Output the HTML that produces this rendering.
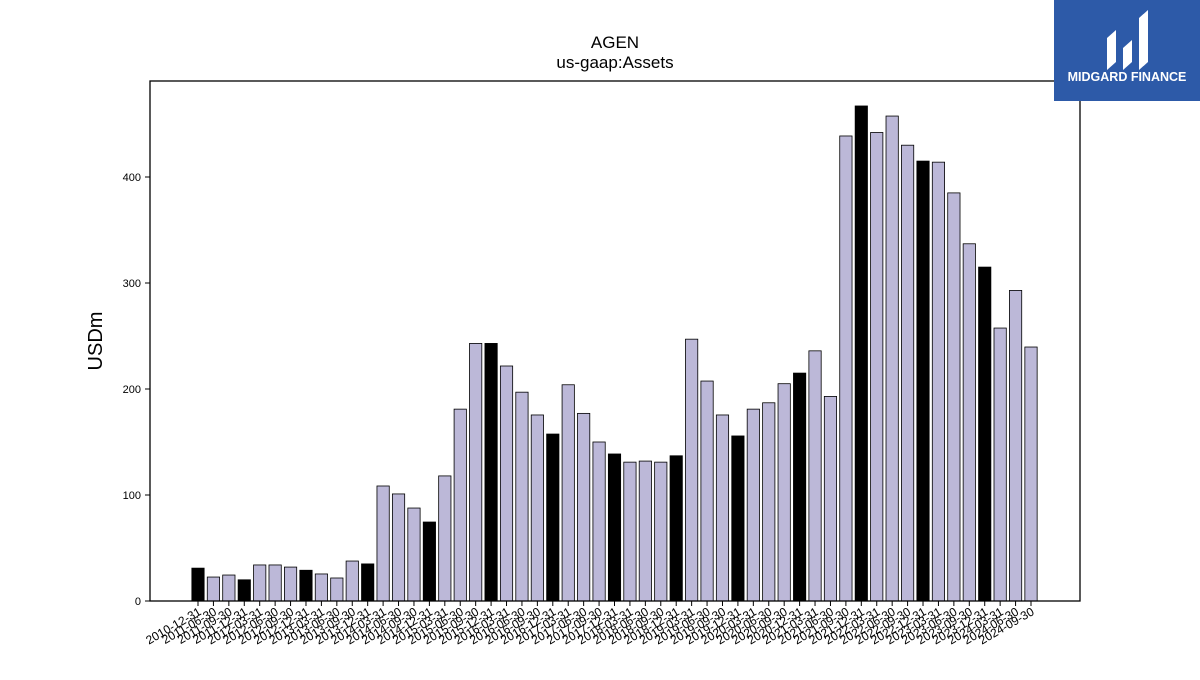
<!DOCTYPE html>
<html><head><meta charset="utf-8"><style>
body{margin:0;background:#fff;width:1200px;height:675px;overflow:hidden;font-family:"Liberation Sans",sans-serif}
</style></head><body>
<svg width="1200" height="675" xmlns="http://www.w3.org/2000/svg">
<text x="615" y="48" text-anchor="middle" font-size="17">AGEN</text>
<text x="615" y="68" text-anchor="middle" font-size="17">us-gaap:Assets</text>
<text transform="translate(102,341) rotate(-90)" text-anchor="middle" font-size="20">USDm</text>
<g id="bars"></g><g id="yt"></g><g id="xt"></g>
<rect x="150" y="81" width="930" height="520" fill="none" stroke="#000" stroke-width="1.3"/>
<g>
<rect x="1054" y="0" width="146" height="101" fill="#2d5aa8"/>
<path d="M1107 70 L1107 38 L1116 30 L1116 62 Z M1123 70 L1123 48 L1132 40 L1132 62 Z M1139 70 L1139 18 L1148 10 L1148 62 Z" fill="#fff"/>
<text x="1127" y="81" text-anchor="middle" font-size="12.5" font-weight="bold" fill="#fff">MIDGARD FINANCE</text>
</g>
</svg>
<script>
const labels=["2010-12-31","2011-06-30","2011-09-30","2011-12-31","2012-03-31","2012-06-30","2012-09-30","2012-12-31","2013-03-31","2013-06-30","2013-09-30","2013-12-31","2014-03-31","2014-06-30","2014-09-30","2014-12-31","2015-03-31","2015-06-30","2015-09-30","2015-12-31","2016-03-31","2016-06-30","2016-09-30","2016-12-31","2017-03-31","2017-06-30","2017-09-30","2017-12-31","2018-03-31","2018-06-30","2018-09-30","2018-12-31","2019-03-31","2019-06-30","2019-09-30","2019-12-31","2020-03-31","2020-06-30","2020-09-30","2020-12-31","2021-03-31","2021-06-30","2021-09-30","2021-12-31","2022-03-31","2022-06-30","2022-09-30","2022-12-31","2023-03-31","2023-06-30","2023-09-30","2023-12-31","2024-03-31","2024-06-30","2024-09-30"];
const values=[31,22.6,24.5,20,34,34,32,29,25.5,21.7,37.7,35,108.5,101,87.7,74.5,118,181,243,243,221.7,197,175.5,157.5,204,177,150,138.7,131,132,131,137,247,207.5,175.5,155.7,181,187,205,215,236,193,438.7,467,442,457.5,430,415,414,385,337,315,257.5,293,239.6];
const yTicks=[0,100,200,300,400];
const NS="http://www.w3.org/2000/svg";
const x0=198,step=(1031-198)/(labels.length-1),bw=12.3;
const xs=i=>x0+i*step;
const ys=v=>601-v*1.06;
const bars=document.getElementById('bars'),yt=document.getElementById('yt'),xt=document.getElementById('xt');
values.forEach((v,i)=>{
 const r=document.createElementNS(NS,'rect');
 r.setAttribute('x',xs(i)-bw/2);r.setAttribute('y',ys(v));r.setAttribute('width',bw);r.setAttribute('height',601-ys(v));
 r.setAttribute('fill',labels[i].endsWith('12-31')?'#000':'#bcb8d8');r.setAttribute('stroke','#000');r.setAttribute('stroke-width','0.8');
 
 
 bars.appendChild(r);
 const t=document.createElementNS(NS,'line');
 t.setAttribute('x1',xs(i));t.setAttribute('x2',xs(i));t.setAttribute('y1',601);t.setAttribute('y2',606);t.setAttribute('stroke','#000');
 
 
 xt.appendChild(t);
 const l=document.createElementNS(NS,'text');
 l.setAttribute('transform','translate('+(xs(i)+4)+',614) rotate(-30)');l.setAttribute('text-anchor','end');l.setAttribute('font-size','12');
 l.textContent=labels[i];
 
 
 xt.appendChild(l);
});
yTicks.forEach(v=>{
 const t=document.createElementNS(NS,'line');
 t.setAttribute('x1',145);t.setAttribute('x2',150);t.setAttribute('y1',ys(v));t.setAttribute('y2',ys(v));t.setAttribute('stroke','#000');
 
 
 yt.appendChild(t);
 const l=document.createElementNS(NS,'text');
 l.setAttribute('x',141);l.setAttribute('y',ys(v)+4);l.setAttribute('text-anchor','end');l.setAttribute('font-size','11');
 l.textContent=v;
 
 
 yt.appendChild(l);
});
</script>
</body></html>
